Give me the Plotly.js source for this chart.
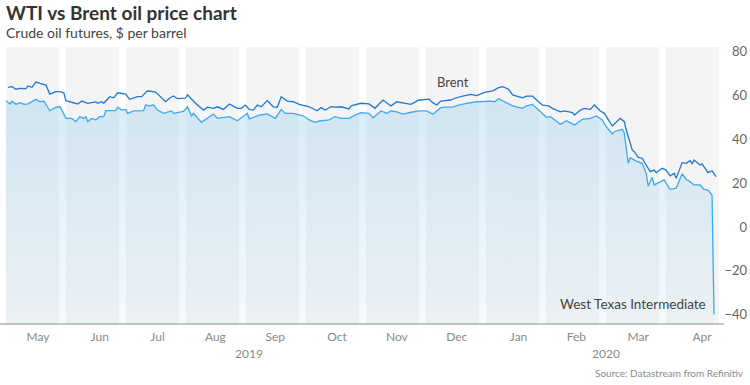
<!DOCTYPE html>
<html>
<head>
<meta charset="utf-8">
<script src="https://cdn.plot.ly/plotly-3.0.1.min.js"></script>
<style>
  html, body { margin: 0; padding: 0; background: #ffffff; }
  #chart { width: 750px; height: 385px; }
</style>
</head>
<body>
<div id="chart"></div>
<script>
// ---------------- DATA ----------------
const brentDates = [
  '2019-05-02','2019-05-04','2019-05-06','2019-05-08','2019-05-11','2019-05-12','2019-05-14','2019-05-16','2019-05-18','2019-05-21',
  '2019-05-23','2019-05-26','2019-05-28','2019-05-30','2019-05-31','2019-06-03','2019-06-06','2019-06-08','2019-06-11','2019-06-15',
  '2019-06-16','2019-06-18','2019-06-19','2019-06-22','2019-06-24','2019-06-26','2019-06-30','2019-07-02','2019-07-06','2019-07-08',
  '2019-07-11','2019-07-15','2019-07-17','2019-07-20','2019-07-22','2019-07-24','2019-07-26','2019-07-30','2019-07-31','2019-08-04',
  '2019-08-08','2019-08-10','2019-08-13','2019-08-15','2019-08-18','2019-08-21','2019-08-25','2019-08-27','2019-08-29','2019-08-31',
  '2019-09-02','2019-09-04','2019-09-06','2019-09-09','2019-09-12','2019-09-14','2019-09-16','2019-09-19','2019-09-22','2019-09-25',
  '2019-09-30','2019-10-04','2019-10-06','2019-10-08','2019-10-11','2019-10-13','2019-10-16','2019-10-20','2019-10-21','2019-10-26',
  '2019-10-30','2019-11-02','2019-11-06','2019-11-10','2019-11-13','2019-11-16','2019-11-20','2019-11-24','2019-11-25','2019-11-29',
  '2019-12-01','2019-12-03','2019-12-05','2019-12-10','2019-12-12','2019-12-16','2019-12-20','2019-12-23','2019-12-27','2019-12-31',
  '2020-01-03','2020-01-05','2020-01-08','2020-01-10','2020-01-12','2020-01-15','2020-01-17','2020-01-20','2020-01-23','2020-01-25',
  '2020-01-28','2020-01-30','2020-02-03','2020-02-05','2020-02-09','2020-02-10','2020-02-13','2020-02-15','2020-02-18','2020-02-20',
  '2020-02-23','2020-02-25','2020-02-29','2020-03-01','2020-03-04','2020-03-06','2020-03-07','2020-03-10','2020-03-11','2020-03-13',
  '2020-03-15','2020-03-17','2020-03-19','2020-03-21','2020-03-22','2020-03-25','2020-03-27','2020-03-29','2020-03-31','2020-04-01',
  '2020-04-04','2020-04-06','2020-04-08','2020-04-09','2020-04-10','2020-04-13','2020-04-14','2020-04-17','2020-04-19','2020-04-21'
];
const brentPrice = [
  63.8, 64.1, 62.9, 63.3, 63.2, 64.4, 63.8, 66.2, 65.6, 64.8,
  60.7, 61.8, 61.8, 61.3, 57.7, 56.8, 56.2, 57.5, 56.5, 57.1,
  56.5, 57.2, 56.5, 59.5, 59.0, 61.3, 60.7, 58.3, 59.5, 59.5,
  62.2, 61.6, 59.8, 57.2, 58.8, 59.8, 58.6, 58.8, 60.4, 56.5,
  53.4, 54.7, 54.2, 54.9, 53.7, 56.2, 54.2, 54.2, 55.7, 53.7,
  53.4, 55.7, 54.9, 57.7, 54.9, 54.7, 59.5, 57.5, 57.2, 56.0,
  54.9, 53.1, 54.5, 53.4, 54.9, 54.7, 54.9, 53.9, 55.3, 56.5,
  56.2, 54.2, 58.0, 55.3, 57.2, 56.8, 56.0, 58.0, 58.0, 58.4,
  56.8, 55.7, 57.5, 58.0, 58.8, 59.8, 60.6, 60.0, 61.5, 62.2,
  63.6, 64.1, 62.9, 60.3, 59.8, 59.0, 59.8, 59.8, 57.2, 55.7,
  55.3, 54.2, 52.6, 53.0, 52.2, 51.1, 53.4, 54.2, 53.7, 55.7,
  53.0, 51.9, 46.1, 47.0, 49.6, 48.1, 44.3, 35.2, 34.4, 31.8,
  31.4, 28.3, 25.3, 26.0, 24.8, 26.8, 26.0, 23.3, 24.5, 22.2,
  29.4, 29.1, 30.3, 28.8, 30.6, 28.3, 28.8, 24.8, 25.7, 23.0
];
const wtiDates = [
  '2019-05-01','2019-05-03','2019-05-04','2019-05-06','2019-05-08','2019-05-10','2019-05-12','2019-05-16','2019-05-18','2019-05-20',
  '2019-05-23','2019-05-26','2019-05-28','2019-05-29','2019-05-31','2019-06-03','2019-06-05','2019-06-07','2019-06-09','2019-06-10',
  '2019-06-11','2019-06-13','2019-06-15','2019-06-17','2019-06-19','2019-06-20','2019-06-25','2019-06-26','2019-06-28','2019-06-30',
  '2019-07-01','2019-07-04','2019-07-09','2019-07-10','2019-07-12','2019-07-14','2019-07-16','2019-07-19','2019-07-23','2019-07-24',
  '2019-07-29','2019-07-31','2019-08-02','2019-08-03','2019-08-07','2019-08-10','2019-08-13','2019-08-15','2019-08-21','2019-08-25',
  '2019-08-30','2019-08-31','2019-09-03','2019-09-05','2019-09-09','2019-09-13','2019-09-16','2019-09-18','2019-09-22','2019-09-27',
  '2019-09-30','2019-10-03','2019-10-05','2019-10-10','2019-10-13','2019-10-16','2019-10-20','2019-10-23','2019-10-26','2019-10-30',
  '2019-11-01','2019-11-05','2019-11-08','2019-11-10','2019-11-13','2019-11-16','2019-11-20','2019-11-24','2019-11-28','2019-12-01',
  '2019-12-05','2019-12-07','2019-12-11','2019-12-14','2019-12-18','2019-12-23','2019-12-30','2020-01-01','2020-01-03','2020-01-07',
  '2020-01-10','2020-01-15','2020-01-17','2020-01-20','2020-01-23','2020-01-27','2020-01-29','2020-02-03','2020-02-06','2020-02-10',
  '2020-02-14','2020-02-18','2020-02-21','2020-02-24','2020-02-26','2020-02-29','2020-03-01','2020-03-05','2020-03-06','2020-03-08',
  '2020-03-09','2020-03-12','2020-03-15','2020-03-17','2020-03-18','2020-03-20','2020-03-21','2020-03-26','2020-03-29','2020-04-01',
  '2020-04-04','2020-04-06','2020-04-08','2020-04-10','2020-04-13','2020-04-15','2020-04-17','2020-04-19','2020-04-20'
];
const wtiPrice = [
  57.7, 56.2, 57.5, 56.0, 56.8, 56.0, 56.2, 58.3, 57.2, 57.5,
  53.1, 54.7, 54.9, 53.4, 49.6, 49.6, 48.1, 50.4, 49.6, 50.4,
  48.1, 49.6, 48.9, 50.4, 50.4, 53.1, 53.1, 54.7, 53.4, 53.7,
  51.9, 53.0, 53.1, 55.7, 55.3, 55.7, 53.4, 51.9, 53.0, 51.9,
  52.8, 54.9, 50.7, 51.9, 47.8, 49.6, 51.6, 49.6, 50.4, 48.5,
  51.9, 49.4, 50.4, 51.1, 51.6, 49.6, 53.7, 51.9, 51.9, 50.8,
  48.9, 47.8, 48.4, 48.9, 50.4, 49.6, 49.6, 51.1, 52.2, 51.9,
  49.9, 53.0, 51.9, 53.0, 52.6, 51.6, 52.4, 53.0, 53.0, 51.5,
  54.5, 54.7, 54.7, 55.7, 56.5, 57.2, 57.5, 57.2, 58.6, 56.5,
  55.3, 54.2, 55.3, 56.0, 53.4, 50.1, 50.4, 46.9, 48.5, 46.6,
  49.2, 49.6, 50.7, 48.9, 45.8, 42.5, 43.5, 44.6, 42.8, 29.1,
  31.6, 30.1, 29.1, 24.5, 18.7, 22.7, 19.2, 21.5, 17.2, 17.7,
  24.2, 21.8, 20.7, 19.2, 19.2, 17.2, 16.9, 14.6, -40.0
];
const monthTickDates = ['2019-05-17','2019-06-17','2019-07-16','2019-08-14','2019-09-13','2019-10-14',
                        '2019-11-13','2019-12-13','2020-01-13','2020-02-11','2020-03-13','2020-04-14'];
const monthLabels = ['May','Jun','Jul','Aug','Sep','Oct','Nov','Dec','Jan','Feb','Mar','Apr'];
const yearLabels = ['2019','2020'];
const yearLabelDates = ['2019-08-31','2020-02-26'];
const yTicks = [-40, -20, 0, 20, 40, 60, 80];
const xRange = ['2019-05-01','2020-04-22'];
const yRange = [-44.3, 82.2];

// ---------------- STYLE ----------------
const FONT = 'Lato, "Open Sans", sans-serif';
const W = 750, H = 385;
const M = {l: 6, r: 0, t: 47, b: 61};
const plotW = 712;                       // width of the x axis domain in px
const regionW = W - M.l - M.r;

// monthly background bands (equal width, as in the reference)
const shapes = [];
for (let i = 0; i < monthLabels.length; i++) {
  shapes.push({
    type: 'rect', layer: 'below',
    xref: 'x domain', yref: 'y domain',
    x0: (60 * i) / plotW, x1: (60 * i + 53) / plotW,
    y0: 0, y1: 1,
    fillcolor: '#f4f4f4', line: {width: 0}
  });
}
// baseline axis line (extends slightly past plot edges)
shapes.push({
  type: 'line', layer: 'above',
  xref: 'x domain', yref: 'y domain',
  x0: -6 / plotW, x1: 718 / plotW, y0: 0, y1: 0,
  line: {color: '#8a8a8a', width: 1}
});

const baseline = {
  x: wtiDates, y: wtiDates.map(() => yRange[0]),
  type: 'scatter', mode: 'lines', line: {width: 0},
  hoverinfo: 'skip', showlegend: false
};
const wti = {
  x: wtiDates, y: wtiPrice, type: 'scatter', mode: 'lines',
  name: 'West Texas Intermediate',
  line: {color: '#3caaf2', width: 1.3},
  fill: 'tonexty',
  fillgradient: {
    type: 'vertical',
    colorscale: [[0, 'rgba(160,208,238,0.10)'], [0.55, 'rgba(160,208,238,0.28)'], [1, 'rgba(160,208,238,0.42)']]
  },
  showlegend: false
};
const brent = {
  x: brentDates, y: brentPrice, type: 'scatter', mode: 'lines',
  name: 'Brent',
  line: {color: '#1e78d6', width: 1.3},
  showlegend: false
};

const annotations = [
  {text: 'Crude oil futures, $ per barrel', xref: 'paper', yref: 'paper',
   x: 0, xshift: -2, y: (324 - 33) / 277, xanchor: 'left', yanchor: 'middle', showarrow: false,
   font: {family: FONT, size: 14, color: '#444'}},
  {text: 'Brent', xref: 'x', yref: 'y', x: '2019-12-11', y: 66.2,
   xanchor: 'center', yanchor: 'middle', showarrow: false,
   font: {family: FONT, size: 13, color: '#444'}},
  {text: 'West Texas Intermediate', xref: 'x', yref: 'y', x: '2020-04-17', y: -35.2,
   xanchor: 'right', yanchor: 'middle', showarrow: false,
   font: {family: FONT, size: 13.5, color: '#444'}},
  {text: 'Source: Datastream from Refinitiv', xref: 'paper', yref: 'paper',
   x: 1, xshift: -4, y: (324 - 373) / 277, xanchor: 'right', yanchor: 'middle', showarrow: false,
   font: {family: FONT, size: 10, color: '#8a8a8a'}}
];
yearLabels.forEach((t, i) => annotations.push({
  text: t, xref: 'x', yref: 'paper', x: yearLabelDates[i], y: (324 - 353) / 277,
  xanchor: 'center', yanchor: 'middle', showarrow: false,
  font: {family: FONT, size: 12, color: '#8a8a8a'}
}));

const layout = {
  width: W, height: H,
  margin: M,
  paper_bgcolor: '#ffffff', plot_bgcolor: 'rgba(0,0,0,0)',
  showlegend: false,
  title: {
    text: '<b>WTI vs Brent oil price chart</b>',
    xref: 'paper', x: 0, xanchor: 'left',
    yref: 'container', y: 1 - 13 / H, yanchor: 'middle',
    font: {family: FONT, size: 19, color: '#333'}
  },
  xaxis: {
    type: 'date', range: xRange, domain: [0, plotW / regionW],
    tickvals: monthTickDates, ticktext: monthLabels,
    ticks: '', showgrid: false, zeroline: false, showline: false,
    tickfont: {family: FONT, size: 12, color: '#8a8a8a'},
    ticklabelstandoff: 4, fixedrange: true
  },
  yaxis: {
    range: yRange, side: 'left', anchor: 'free', position: 1,
    tickvals: yTicks, ticks: '', showgrid: false, zeroline: false, showline: false,
    tickfont: {family: FONT, size: 13, color: '#666'},
    ticklabelstandoff: 3, fixedrange: true
  },
  shapes: shapes,
  annotations: annotations
};

Plotly.newPlot('chart', [baseline, wti, brent], layout, {staticPlot: true, displayModeBar: false});
</script>
</body>
</html>
